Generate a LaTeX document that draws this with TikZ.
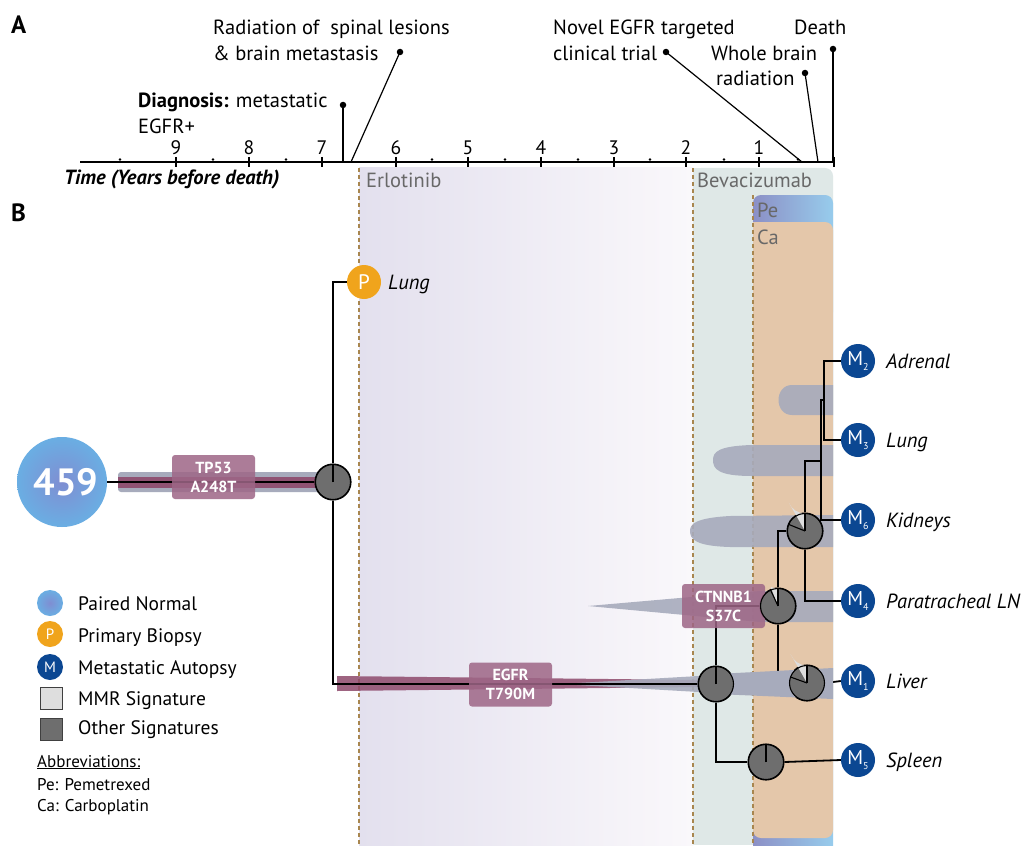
\documentclass[tikz,border=0pt]{standalone}
\usepackage{fontspec}
\setmainfont{PT Sans}
\usetikzlibrary{calc}
\definecolor{mblue}{HTML}{0B4792}
\definecolor{porange}{HTML}{F0A41C}
\definecolor{ngray}{HTML}{6E6E6E}
\definecolor{nlight}{HTML}{DEDEDE}
\definecolor{wgray}{HTML}{A7ABBC}
\definecolor{mpurple}{HTML}{8E4A6C}
\definecolor{boxpurple}{HTML}{9E6686}
\definecolor{bevac}{HTML}{DFE8E7}
\definecolor{carbo}{HTML}{E4C7AA}
\definecolor{dashc}{HTML}{A8864F}
\definecolor{txtgray}{HTML}{686868}
\definecolor{erlA}{HTML}{E3E0EE}
\definecolor{erlB}{HTML}{FAF8FB}
\definecolor{peA}{HTML}{8C90C6}
\definecolor{peB}{HTML}{97CCEC}
\definecolor{nrmIn}{HTML}{7F8ED2}
\definecolor{nrmOut}{HTML}{6AAEE3}
\newcommand{\msub}[1]{M\raisebox{-5.5pt}{\fontsize{10}{10}\selectfont #1}}
\begin{document}
\begin{tikzpicture}[x=1pt,y=-1pt,
  every node/.style={inner sep=0pt},
  tl/.style={font=\fontsize{20.5}{20.5}\selectfont, anchor=base west},
  tnum/.style={font=\fontsize{19.5}{19.5}\selectfont, anchor=base},
  evdot/.style={circle, fill=black, minimum size=6.5pt},
  evline/.style={line width=1.2pt},
  bandedge/.style={draw=dashc, line width=1.1pt, dash pattern=on 4pt off 3pt},
  bandlab/.style={font=\fontsize{20.5}{20.5}\selectfont, text=txtgray, anchor=base west},
  conn/.style={line width=1.8pt, black},
  pie/.style={circle, minimum size=36pt, draw=black, line width=1.1pt, fill=ngray},
  mnode/.style={circle, minimum size=34pt, fill=mblue, text=white, font=\fontsize{20}{20}\selectfont},
  site/.style={font=\fontsize{20.5}{20.5}\selectfont\itshape, anchor=base west},
  mut/.style={rounded corners=3pt, fill=boxpurple, fill opacity=0.85, text opacity=1, text=white,
    minimum width=83pt, minimum height=44pt, align=center, font=\fontsize{16}{19}\selectfont\bfseries},
  leg/.style={font=\fontsize{19.5}{19.5}\selectfont, anchor=base west},
  abb/.style={font=\fontsize{17}{17}\selectfont, anchor=base west},
  wedge/.style={fill=wgray, fill opacity=0.9}
]
\useasboundingbox (0,0) rectangle (1024,845);
\fill[white] (0,0) rectangle (1024,845);

% ---------- Panel labels
\node[font=\fontsize{25}{25}\selectfont\bfseries, anchor=base west] (pA) at (11,34) {A};
\node[font=\fontsize{25}{25}\selectfont\bfseries, anchor=base west] (pB) at (11,221) {B};

% ---------- Treatment bands
\shade[left color=erlA, right color=erlB] (359,168) rectangle (693,845);
\fill[bevac, rounded corners=8pt] (693,168) rectangle (833,320);
\fill[bevac] (693,200) rectangle (833,845);
\fill[bevac] (693,168) rectangle (720,200);
\shade[left color=peA, right color=peB, rounded corners=8pt] (753,195) rectangle (833,860);
\fill[carbo, rounded corners=8pt] (753,222) rectangle (833,838);
\fill[carbo] (753,222) rectangle (770,240);
\draw[bandedge] (359,168) -- (359,845);
\draw[bandedge] (693,168) -- (693,845);
\draw[bandedge] (753,195) -- (753,845);
\node[bandlab] (erl) at (366,187) {Erlotinib};
\node[bandlab] (bev) at (697,187) {Bevacizumab};
\node[bandlab] (pe) at (757,217) {Pe};
\node[bandlab] (ca) at (757,244) {Ca};

% ---------- Timeline
\draw[line width=2.4pt] (80,162) -- (835,162);
\foreach \x/\l in {176/9,249/8,322/7,396/6,468/5,541/4,614/3,686/2,759/1}{
  \draw[line width=2pt] (\x,157) -- (\x,167);
  \node[tnum] (y\l) at (\x,155) {\l};
}
\draw[line width=2pt] (834,157) -- (834,167);
\foreach \x in {120,213,286,432,505,578,650,724,798}{
  \fill (\x,159.5) circle (1.4pt);
}
\node[tl, font=\fontsize{20.5}{20.5}\selectfont\bfseries\itshape] (tlab) at (64,185) {Time (Years before death)};

% events
\coordinate (a1) at (343,162);
\coordinate (a2) at (351,162);
\coordinate (a3) at (802,162);
\coordinate (a4) at (818,162);
\coordinate (a5) at (833,162);
\node[evdot] (d1) at (343,105) {};
\node[evdot] (d2) at (400,52) {};
\node[evdot] (d3) at (666,52) {};
\node[evdot] (d4) at (805,73) {};
\node[evdot] (d5) at (833,49) {};
\draw[evline] (d1.center) -- (a1);
\draw[evline] (d2.center) -- (a2);
\draw[evline] (d3.center) -- (a3);
\draw[evline] (d4.center) -- (a4);
\draw[evline] (d5.center) -- (a5);
\node[tl] (t1a) at (138,108) {\textbf{Diagnosis:} metastatic};
\node[tl] (t1b) at (138,134) {EGFR+};
\node[tl] (t2a) at (213,35) {Radiation of \ spinal lesions};
\node[tl] (t2b) at (213,61) {\& brain metastasis};
\node[tl] (t3a) at (553,35) {Novel EGFR targeted};
\node[tl] (t3b) at (553,61) {clinical trial};
\node[tl] (t4a) at (711,61) {Whole brain};
\node[tl] (t4b) at (716,86) {radiation};
\node[tl] (t5) at (794,35) {Death};

% ---------- Tree branch shapes
\fill[wgray, rounded corners=3pt] (118,472) rectangle (322,492);
\fill[mpurple, opacity=0.9] (118,476.5) rectangle (330,488);
\fill[mpurple, opacity=0.85] (337,676) -- (700,680) -- (700,687) -- (337,691) -- cycle;
\fill[wedge] (560,684) -- (716,675) -- (716,693) -- cycle;
\fill[wedge] (588,606) -- (760,591) -- (833,591) -- (833,622) -- (760,622) -- cycle;
\fill[wedge] (833,385) -- (792,385) .. controls (774,385) and (774,415) .. (792,415) -- (833,415) -- cycle;
\fill[wedge] (833,445) -- (752,445) .. controls (718,446) and (713,452) .. (713,460) .. controls (713,469) and (718,476) .. (752,476) -- (833,476) -- cycle;
\fill[wedge] (833,515) -- (730,516) .. controls (695,518) and (690,524) .. (690,531) .. controls (690,539) and (695,546) .. (730,547) -- (833,547) -- cycle;

% ---------- Nodes
\node[circle, minimum size=90pt, inner color=nrmIn, outer color=nrmOut, text=white,
  font=\fontsize{38}{38}\selectfont\bfseries] (n459) at (62,482) {\hspace{8pt}459};
\node[pie] (root) at (333,482) {};
\node[circle, minimum size=34pt, fill=porange, text=white, font=\fontsize{21}{21}\selectfont] (P) at (364,282) {P};
\node[site] (lP) at (388,289) {Lung};
\node[pie] (egfr) at (716,684) {};
\node[pie] (ct) at (778,606) {};
\node[pie] (kid) at (805,531) {};
\node[pie] (liv) at (807,683) {};
\node[pie] (sp) at (766,762) {};
\coordinate (b1) at (821,461);
\coordinate (b2) at (824,400);
\node[mnode] (M2) at (858,361) {\msub{2}};
\node[mnode] (M3) at (858,440) {\msub{3}};
\node[mnode] (M6) at (858,520) {\msub{6}};
\node[mnode] (M4) at (858,601) {\msub{4}};
\node[mnode] (M1) at (858,681) {\msub{1}};
\node[mnode] (M5) at (858,760) {\msub{5}};
\node[site] (l2) at (886,368) {Adrenal};
\node[site] (l3) at (886,447) {Lung};
\node[site] (l6) at (886,527) {Kidneys};
\node[site] (l4) at (886,608) {Paratracheal LN};
\node[site] (l1) at (886,688) {Liver};
\node[site] (l5) at (886,767) {Spleen};

% ---------- Connectors
\draw[conn] (n459.east) -- (root.west);
\draw[conn] (P.west) -| (root.north);
\draw[conn] (root.south) |- (egfr.west);
\draw[conn] (egfr.north) |- (ct.west);
\draw[conn] (egfr.south) |- (sp.west);
\draw[conn] (sp.east) -- (M5.west);
\draw[conn] (ct.north) |- (kid.west);
\draw[conn] (ct.south) |- (liv.west);
\draw[conn] (liv.east) -- (M1.west);
\draw[conn] (kid.south) |- (M4.west);
\draw[conn] (kid.north) |- (b1);
\draw[conn] (b1) |- (M6.west);
\draw[conn] (b1) |- (b2);
\draw[conn] (b2) |- (M2.west);
\draw[conn] (b2) |- (M3.west);

\fill[wgray] (716,674) -- (833,668) -- (833,699) -- (716,694) -- cycle;

% mutation labels
\node[mut] (mTP) at (213.5,477) {TP53\\A248T};
\node[mut] (mEG) at (510.5,684.5) {EGFR\\T790M};
\node[mut] (mCT) at (723.5,606) {CTNNB1\\S37C};

% ---------- Pie nodes on top (arc angles mirrored by the flipped y axis)
\foreach \n/\a in {root/90,egfr/90,sp/90,ct/115,kid/158,liv/160}{
  \fill[ngray] (\n.center) circle (17.5pt);
  \fill[nlight] (\n.center) -- ++(0pt,17.5pt) arc[start angle=-90, end angle=-\a, radius=17.5pt] -- cycle;
  \draw[line width=1.1pt] (\n.center) -- ++(0pt,17.5pt);
  \draw[line width=1.1pt] (\n.center) -- ++(\a:17.5pt);
  \draw[line width=1.1pt] (\n.center) circle (17.5pt);
}

% ---------- Legend
\node[circle, minimum size=26pt, inner color=nrmIn, outer color=nrmOut] (gN) at (50,603) {};
\node[circle, minimum size=26pt, fill=porange, text=white, font=\fontsize{15}{15}\selectfont] (gP) at (50,634) {P};
\node[circle, minimum size=26pt, fill=mblue, text=white, font=\fontsize{15}{15}\selectfont] (gM) at (50,667) {M};
\node[minimum size=22pt, fill=nlight, draw=black!75, line width=1pt] (gA) at (51.5,698.5) {};
\node[minimum size=22pt, fill=ngray, draw=black!75, line width=1pt] (gB) at (51.5,729.5) {};
\node[leg] (tN) at (78,610) {Paired Normal};
\node[leg] (tP) at (78,642) {Primary Biopsy};
\node[leg] (tM) at (78,674) {Metastatic Autopsy};
\node[leg] (tA) at (78,705) {MMR Signature};
\node[leg] (tB) at (78,734) {Other Signatures};
\node[abb] (ab0) at (37,767) {\underline{Abbreviations:}};
\node[abb] (ab1) at (37,790) {Pe: Pemetrexed};
\node[abb] (ab2) at (37,811) {Ca: Carboplatin};
\end{tikzpicture}
\end{document}
